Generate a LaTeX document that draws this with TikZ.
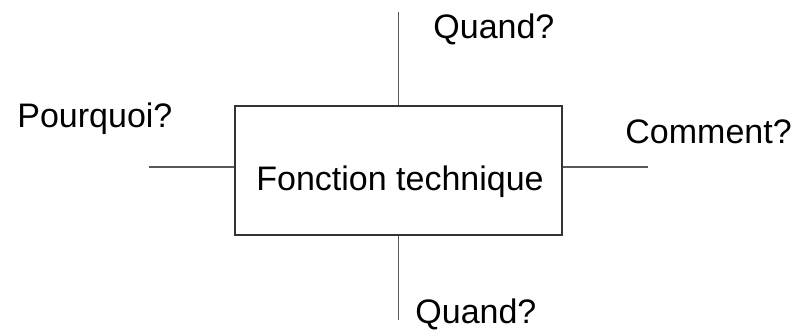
\documentclass[tikz,border=0pt]{standalone}
\usepackage{fontspec}
\setmainfont{Liberation Sans}
\begin{document}
\begin{tikzpicture}[x=0.5pt,y=-0.5pt]
    \tikzstyle{lbl}=[inner sep=0pt, font=\fontsize{17}{20}\selectfont]
    \tikzstyle{trait}=[draw=black!65, line width=0.6pt]
    \useasboundingbox (0,0) rectangle (795,331);
    \node[draw=black!80, line width=1pt, minimum width=163.5pt, minimum height=64.5pt] (fct) at (398.5,170.5){};
    \node[lbl, anchor=base] (txt) at (400,191){Fonction technique};
    \coordinate (h) at (398.5,12);
    \coordinate (b) at (398.5,320);
    \coordinate (g) at (149,167);
    \coordinate (d) at (648,167);
    \draw[trait] (fct.north) -- (h);
    \draw[trait] (fct.south) -- (b);
    \draw[trait] (fct.west |- g) -- (g);
    \draw[trait] (fct.east |- d) -- (d);
    \node[lbl, anchor=base west] (quand1) at (433,39){Quand?};
    \node[lbl, anchor=base west] (pourquoi) at (17,127){Pourquoi?};
    \node[lbl, anchor=base west] (comment) at (625,143){Comment?};
    \node[lbl, anchor=base west] (quand2) at (415,323){Quand?};
\end{tikzpicture}
\end{document}
